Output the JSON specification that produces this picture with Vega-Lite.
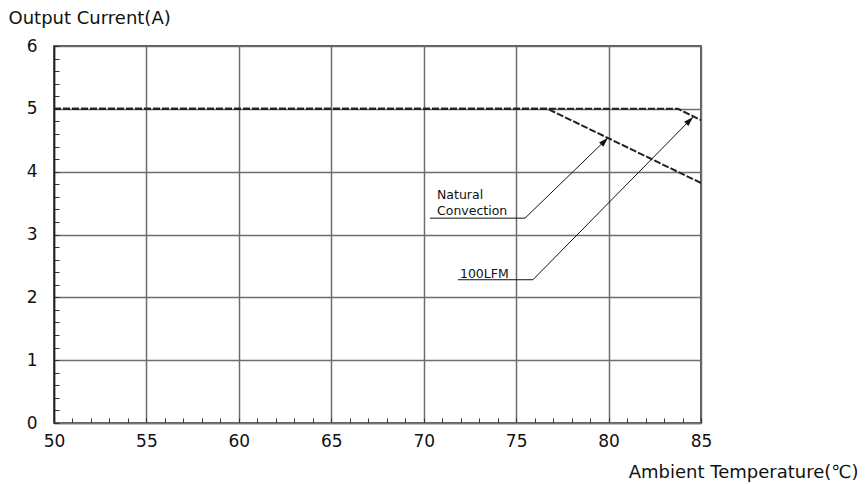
{
  "$schema": "https://vega.github.io/schema/vega-lite/v6.json",
  "width": 647,
  "height": 377,
  "autosize": {"type": "none"},
  "padding": {"left": 54, "top": 46, "right": 167, "bottom": 61},
  "config": {
    "view": {"stroke": "#222", "strokeWidth": 1.5},
    "font": "DejaVu Sans"
  },
  "datasets": {
    "curves": [
      {"series": "Natural Convection", "x": 50, "y": 5, "o": 1},
      {"series": "Natural Convection", "x": 76.7, "y": 5, "o": 2},
      {"series": "Natural Convection", "x": 85, "y": 3.82, "o": 3},
      {"series": "100LFM", "x": 50, "y": 5, "o": 1},
      {"series": "100LFM", "x": 83.75, "y": 5, "o": 2},
      {"series": "100LFM", "x": 85, "y": 4.82, "o": 3}
    ],
    "leaders": [
      {"series": "Natural Convection", "x": 70.34, "y": 3.26, "o": 1},
      {"series": "Natural Convection", "x": 75.48, "y": 3.26, "o": 2},
      {"series": "Natural Convection", "x": 79.97, "y": 4.54, "o": 3},
      {"series": "100LFM", "x": 71.85, "y": 2.28, "o": 1},
      {"series": "100LFM", "x": 75.91, "y": 2.28, "o": 2},
      {"series": "100LFM", "x": 84.57, "y": 4.87, "o": 3}
    ],
    "tips": [
      {"series": "Natural Convection", "x": 79.97, "y": 4.54},
      {"series": "100LFM", "x": 84.57, "y": 4.87}
    ],
    "labels": [
      {"text": "Natural", "x": 70.72, "y": 3.565},
      {"text": "Convection", "x": 70.72, "y": 3.31},
      {"text": "100LFM", "x": 71.96, "y": 2.31}
    ]
  },
  "encoding": {
    "x": {
      "field": "x", "type": "quantitative",
      "scale": {"domain": [50, 85], "nice": false, "zero": false},
      "axis": {
        "values": [50,51,52,53,54,55,56,57,58,59,60,61,62,63,64,65,66,67,68,69,70,71,72,73,74,75,76,77,78,79,80,81,82,83,84,85],
        "title": "Ambient Temperature(℃)",
        "titleFontSize": 18, "titleFontWeight": "normal", "titleColor": "#111",
        "titleAlign": "right", "titleAnchor": null, "titleX": 804, "titleY": 54, "titleBaseline": "alphabetic",
        "labelFontSize": 17, "labelColor": "#111", "labelPadding": 15,
        "labelExpr": "datum.value % 5 === 0 ? datum.label : ''",
        "labelFlush": false, "labelOverlap": false,
        "tickSize": -5, "tickColor": "#333", "tickWidth": 1,
        "grid": true, "gridColor": "#6e6e6e", "gridWidth": 1.5,
        "gridOpacity": {"condition": {"test": "datum.value % 5 === 0", "value": 1}, "value": 0},
        "domainColor": "#777", "domainWidth": 1.5
      }
    },
    "y": {
      "field": "y", "type": "quantitative",
      "scale": {"domain": [0, 6], "nice": false},
      "axis": {
        "values": [0,0.2,0.4,0.6,0.8,1,1.2,1.4,1.6,1.8,2,2.2,2.4,2.6,2.8,3,3.2,3.4,3.6,3.8,4,4.2,4.4,4.6,4.8,5,5.2,5.4,5.6,5.8,6],
        "format": "~g",
        "title": "Output Current(A)",
        "titleFontSize": 18, "titleFontWeight": "normal", "titleColor": "#111",
        "titleAngle": 0, "titleAlign": "left", "titleAnchor": null, "titleX": -46, "titleY": -23, "titleBaseline": "alphabetic",
        "labelFontSize": 17, "labelColor": "#111", "labelPadding": 22,
        "labelExpr": "abs(datum.value - round(datum.value)) < 0.01 ? datum.label : ''",
        "labelFlush": false, "labelOverlap": false,
        "tickSize": -5, "tickColor": "#333", "tickWidth": 1,
        "grid": true, "gridColor": "#6e6e6e", "gridWidth": 1.5,
        "gridOpacity": {"condition": {"test": "abs(datum.value - round(datum.value)) < 0.01", "value": 1}, "value": 0},
        "domainColor": "#222", "domainWidth": 1.5
      }
    }
  },
  "layer": [
    {
      "data": {"name": "curves"},
      "mark": {"type": "line", "stroke": "#222", "strokeWidth": 2, "strokeDash": [7, 2]},
      "encoding": {
        "detail": {"field": "series"},
        "order": {"field": "o"}
      }
    },
    {
      "data": {"name": "leaders"},
      "mark": {"type": "line", "stroke": "#111", "strokeWidth": 1},
      "encoding": {
        "detail": {"field": "series"},
        "order": {"field": "o"}
      }
    },
    {
      "data": {"name": "tips"},
      "mark": {"type": "point", "shape": "M0,0L-0.5,1.6L0.5,1.6Z", "filled": true, "color": "#111", "opacity": 1, "size": 144, "angle": 45},
      "encoding": {}
    },
    {
      "data": {"name": "labels"},
      "mark": {"type": "text", "align": "left", "baseline": "alphabetic", "fontSize": 12.5, "color": "#111"},
      "encoding": {
        "text": {"field": "text"}
      }
    }
  ]
}
